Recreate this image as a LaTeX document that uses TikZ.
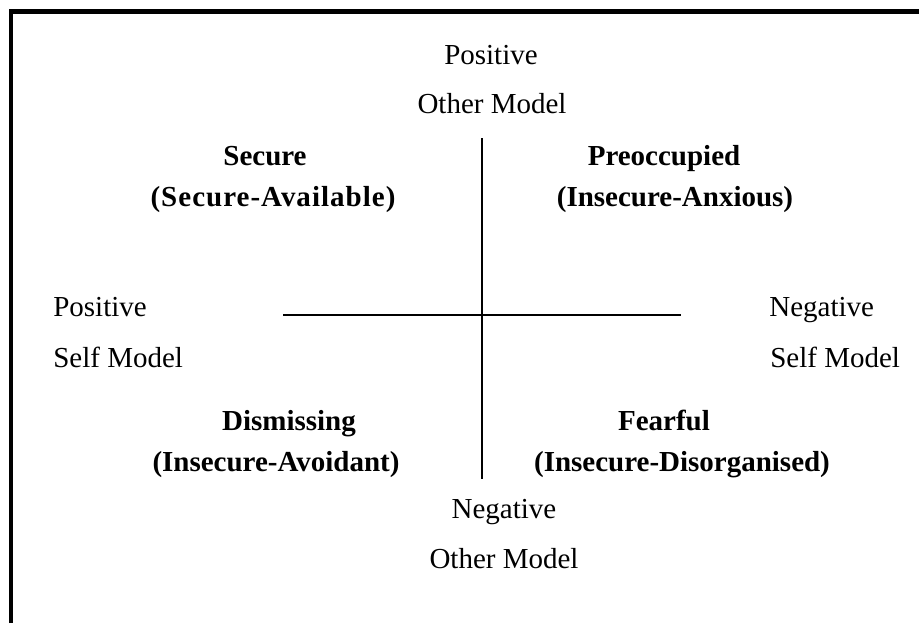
\documentclass[tikz,border=0pt]{standalone}
\usepackage{fontspec}
\setmainfont{Liberation Serif}
\usetikzlibrary{positioning}
\tikzset{
  % etichette degli assi (modello di sé / degli altri)
  axislbl/.style={font=\fontsize{16.5}{20}\selectfont, inner sep=0pt, anchor=base},
  % nome dello stile di attaccamento
  stylelbl/.style={font=\fontsize{16.5}{20}\selectfont\bfseries, inner sep=0pt, anchor=base},
  % assi del diagramma
  axis/.style={line width=1.1pt, black},
  % cornice
  frame/.style={line width=2.8pt, black},
}

\begin{document}
\begin{tikzpicture}[x=0.02cm, y=-0.02cm]
  \useasboundingbox (0,0) rectangle (919,623);
  \draw[frame] (11,623) -- (11,11.5) -- (919,11.5);

  % assi
  \coordinate (ytop) at (482,138);
  \coordinate (ybot) at (482,479);
  \coordinate (xleft) at (283,315);
  \coordinate (xright) at (681,315);
  \draw[axis] (ytop) -- (ybot);
  \draw[axis] (xleft) -- (xright);

  % estremi degli assi
  \node[axislbl] (postop) at (491,64) {Positive};
  \node[axislbl] (othtop) at (492,113) {Other Model};
  \node[axislbl] (negbot) at (504,518) {Negative};
  \node[axislbl] (othbot) at (504,568) {Other Model};
  \node[axislbl, anchor=base west] (posself) at (53,316) {Positive};
  \node[axislbl, anchor=base west] (selfl) at (53,367) {Self Model};
  \node[axislbl, anchor=base west] (negself) at (769,316) {Negative};
  \node[axislbl, anchor=base west] (selfr) at (770,367) {Self Model};

  % quadranti
  \node[stylelbl] (secure) at (265,165) {Secure};
  \node[stylelbl] (secav) at (273,206) {\addfontfeature{LetterSpace=3.5}(Secure-Available)};
  \node[stylelbl] (preocc) at (664,165) {Preoccupied};
  \node[stylelbl] (anx) at (675,206) {(Insecure-Anxious)};
  \node[stylelbl] (dismiss) at (289,430) {Dismissing};
  \node[stylelbl] (avoid) at (276,471) {(Insecure-Avoidant)};
  \node[stylelbl] (fearful) at (664,430) {Fearful};
  \node[stylelbl] (disorg) at (682,471) {(Insecure-Disorganised)};
\end{tikzpicture}
\end{document}
